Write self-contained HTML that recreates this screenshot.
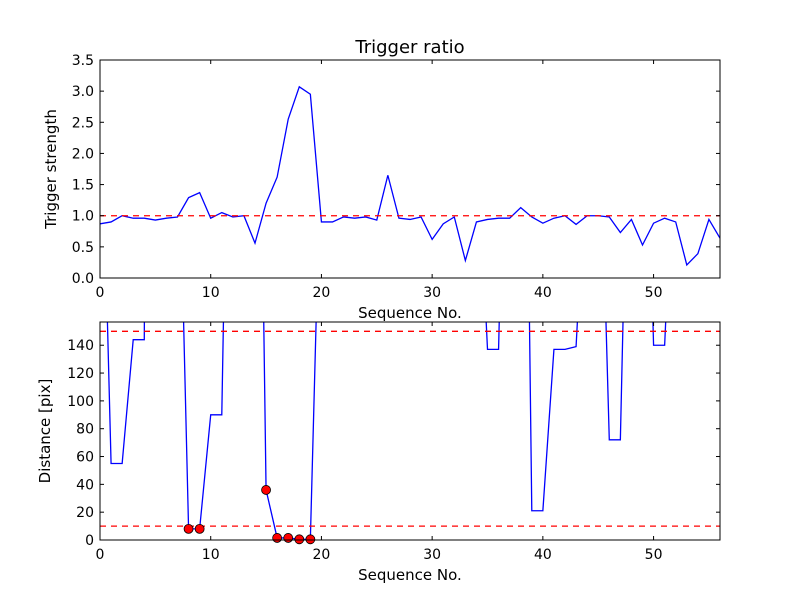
<!DOCTYPE html>
<html><head><meta charset="utf-8"><style>
body{margin:0;background:#fff;}
svg{display:block;font-family:"DejaVu Sans","Liberation Sans",sans-serif;}
</style></head><body>
<svg id="chart" width="800" height="600" viewBox="0 0 800 600" xmlns="http://www.w3.org/2000/svg">
<rect width="800" height="600" fill="#fff"/>
<text x="410" y="53" text-anchor="middle" font-size="18">Trigger ratio</text>
</svg>
<script>
const strength = [0.87,0.9,1.0,0.96,0.96,0.93,0.96,0.98,1.29,1.37,0.96,1.05,0.98,1.0,0.56,1.2,1.62,2.55,3.07,2.95,0.9,0.9,0.98,0.96,0.98,0.93,1.65,0.96,0.94,0.98,0.62,0.87,0.98,0.28,0.9,0.94,0.96,0.96,1.13,0.98,0.88,0.96,1.0,0.86,1.0,1.0,0.98,0.73,0.94,0.53,0.88,0.96,0.9,0.21,0.39,0.94,0.64];
const distance = [364,55,55,144,144,2000,2000,339,8,8,90,90,540,500,612,36,1.5,1.5,0.5,0.5,301,500,500,500,500,500,500,500,500,500,500,500,500,500,303,137,137,470,669,21,21,137,137,139,289,355,72,72,426,438,140,140,319,500,500,500,500];
const markerIdx = [8,9,15,16,17,18,19];
const strengthThreshold = 1.0;
const distThresholds = [150,10];
const topYTicks = ["0.0","0.5","1.0","1.5","2.0","2.5","3.0","3.5"];
const botYTicks = [0,20,40,60,80,100,120,140];
const xTicks = [0,10,20,30,40,50];

const NS="http://www.w3.org/2000/svg";
const svg=document.getElementById('chart');
function mk(tag,attrs,parent){const e=document.createElementNS(NS,tag);for(const k in attrs)e.setAttribute(k,attrs[k]);(parent||svg).appendChild(e);return e;}
const X0=100,X1=720,XMAX=56;
const sx=v=>X0+(X1-X0)*v/XMAX;

function panel(top,bottom,ymax,name){
  const sy=v=>bottom-(bottom-top)*v/ymax;
  const g=mk('g',{});
  
  
  const cid=name+'-clip';
  const cp=mk('clipPath',{id:cid},g);mk('rect',{x:X0,y:top,width:X1-X0,height:bottom-top},cp);
  return {g,sy,cid,top,bottom};
}
function axes(p,yt,ylabel){
  const g=p.g;
  xTicks.forEach(t=>{const x=sx(t);
    mk('line',{x1:x,x2:x,y1:p.bottom,y2:p.bottom-4,stroke:'#000'},g);
    mk('line',{x1:x,x2:x,y1:p.top,y2:p.top+4,stroke:'#000'},g);
    const tx=mk('text',{x:x,y:p.bottom+19,'text-anchor':'middle','font-size':'14'},g);tx.textContent=t;
    
    
  });
  yt.forEach(t=>{const y=p.sy(parseFloat(t));
    mk('line',{x1:X0,x2:X0+4,y1:y,y2:y,stroke:'#000'},g);
    mk('line',{x1:X1,x2:X1-4,y1:y,y2:y,stroke:'#000'},g);
    const tx=mk('text',{x:X0-6,y:y+5,'text-anchor':'end','font-size':'14'},g);tx.textContent=t;
    
    
  });
  mk('rect',{x:X0,y:p.top,width:X1-X0,height:p.bottom-p.top,fill:'none',stroke:'#000','stroke-width':1},g);
  const xl=mk('text',{x:410,y:p.bottom+40,'text-anchor':'middle','font-size':'15'},g);xl.textContent='Sequence No.';
  
  
  const yx=ylabel[1],ycy=(p.top+p.bottom)/2;
  const yl=mk('text',{x:yx,y:ycy,'text-anchor':'middle','font-size':'15',transform:`rotate(-90 ${yx} ${ycy})`},g);yl.textContent=ylabel[0];
  
  
}
const p1=panel(60,278,3.5,'trigger-strength-panel');
const l1=mk('polyline',{points:strength.map((v,i)=>sx(i)+','+p1.sy(v)).join(' '),fill:'none',stroke:'#0000ff','stroke-width':1.3,'clip-path':`url(#${p1.cid})`},p1.g);


const h1=mk('line',{x1:X0,x2:X1,y1:p1.sy(strengthThreshold),y2:p1.sy(strengthThreshold),stroke:'#ff0000','stroke-width':1.3,'stroke-dasharray':'6,5'},p1.g);


axes(p1,topYTicks,['Trigger strength',56]);
const p2=panel(322,540,156.7,'distance-panel');
const l2=mk('polyline',{points:distance.map((v,i)=>sx(i)+','+p2.sy(v)).join(' '),fill:'none',stroke:'#0000ff','stroke-width':1.3,'clip-path':`url(#${p2.cid})`},p2.g);


distThresholds.forEach(t=>{
  const h=mk('line',{x1:X0,x2:X1,y1:p2.sy(t),y2:p2.sy(t),stroke:'#ff0000','stroke-width':1.3,'stroke-dasharray':'6,5'},p2.g);
  
  
});
markerIdx.forEach(i=>{
  const c=mk('circle',{cx:sx(i),cy:p2.sy(distance[i]),r:4.5,fill:'#ff0000',stroke:'#000','stroke-width':0.8},p2.g);
  
  
});
axes(p2,botYTicks.map(String),['Distance [pix]',50]);
</script>
</body></html>
